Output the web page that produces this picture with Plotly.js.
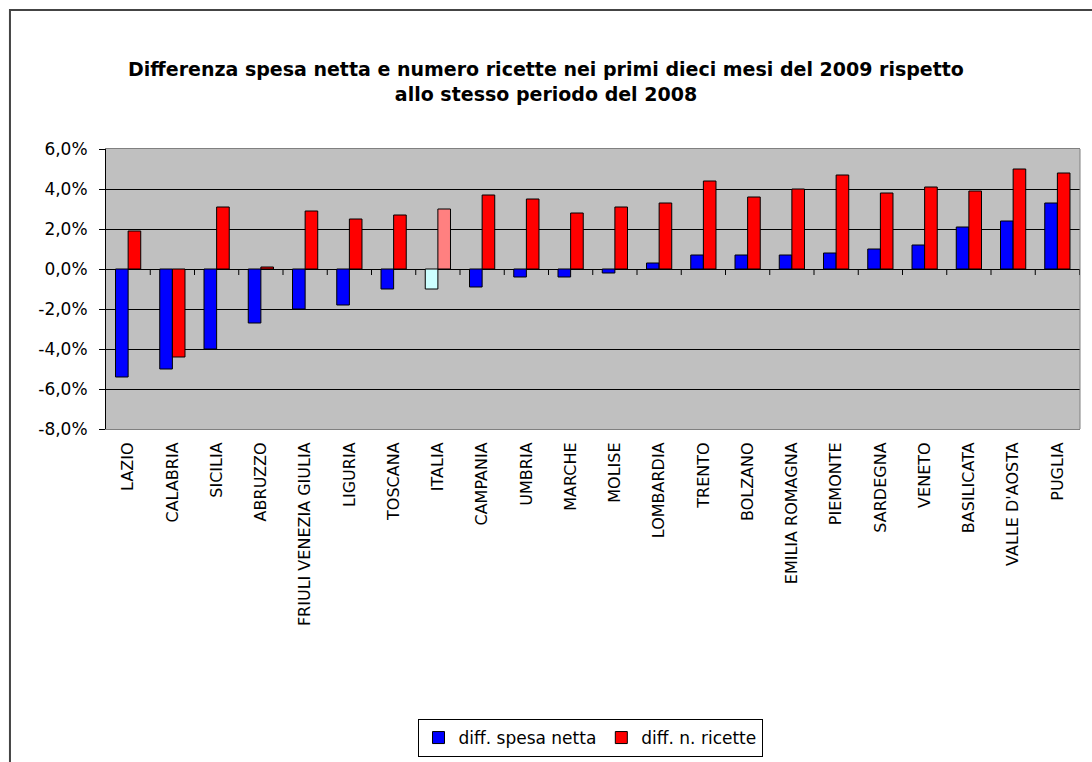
<!DOCTYPE html>
<html>
<head>
<meta charset="utf-8">
<script src="https://cdn.plot.ly/plotly-3.0.1.min.js"></script>
<style>html,body{margin:0;padding:0;background:#fff;}#chart{width:1092px;height:762px;}</style>
</head>
<body>
<div id="chart"></div>
<script>
const categories = ['LAZIO','CALABRIA','SICILIA','ABRUZZO','FRIULI VENEZIA GIULIA','LIGURIA','TOSCANA','ITALIA','CAMPANIA','UMBRIA','MARCHE','MOLISE','LOMBARDIA','TRENTO','BOLZANO','EMILIA ROMAGNA','PIEMONTE','SARDEGNA','VENETO','BASILICATA',"VALLE D'AOSTA",'PUGLIA'];
const spesaNetta = [-5.4,-5.0,-4.0,-2.7,-2.0,-1.8,-1.0,-1.0,-0.9,-0.4,-0.4,-0.2,0.3,0.7,0.7,0.7,0.8,1.0,1.2,2.1,2.4,3.3];
const nRicette = [1.9,-4.4,3.1,0.1,2.9,2.5,2.7,3.0,3.7,3.5,2.8,3.1,3.3,4.4,3.6,4.0,4.7,3.8,4.1,3.9,5.0,4.8];
const yTickVals = [-8,-6,-4,-2,0,2,4,6];
const yTickText = ['-8,0%','-6,0%','-4,0%','-2,0%','0,0%','2,0%','4,0%','6,0%'];
const seriesNames = ['diff. spesa netta','diff. n. ricette'];
const titleText = 'Differenza spesa netta e numero ricette nei primi dieci mesi del 2009 rispetto<br>allo stesso periodo del 2008';

const highlight = 'ITALIA';
const blueColors = categories.map(c => c === highlight ? '#ccffff' : '#0000ff');
const redColors = categories.map(c => c === highlight ? '#ff8080' : '#ff0000');

const traces = [
  {type:'bar', name:seriesNames[0], x:categories, y:spesaNetta,
   marker:{color:blueColors, line:{color:'#000', width:1}}, hoverinfo:'skip'},
  {type:'bar', name:seriesNames[1], x:categories, y:nRicette,
   marker:{color:redColors, line:{color:'#000', width:1}}, hoverinfo:'skip'}
];

// category boundary tick marks on the zero line
const shapes = [];
for (let i = 1; i <= categories.length; i++) {
  shapes.push({type:'line', xref:'x', yref:'y', ysizemode:'pixel', yanchor:0,
    x0:i-0.5, x1:i-0.5, y0:0, y1:-6, line:{color:'#000', width:1}});
}
// right border of plot area
shapes.push({type:'line', xref:'paper', yref:'paper', x0:1, x1:1, y0:0, y1:1, line:{color:'#808080', width:1}});
// outer chart frame
shapes.push({type:'rect', xref:'paper', yref:'paper', x0:-0.0986, x1:1.1, y0:-1.4, y1:1.496,
  line:{color:'#444', width:2}, fillcolor:'rgba(0,0,0,0)'});

const layout = {
  width:1092, height:762,
  margin:{l:106, r:12, t:149, b:333, autoexpand:false},
  paper_bgcolor:'#fff',
  plot_bgcolor:'#c0c0c0',
  font:{family:'DejaVu Sans, Arial, sans-serif', color:'#000'},
  title:{text:titleText, font:{family:'DejaVu Sans, Arial, sans-serif', size:19, weight:'bold', color:'#000'},
    xref:'container', x:0.5, xanchor:'center', yref:'container', y:1-76/762, yanchor:'top'},
  barmode:'group', bargap:0.43, bargroupgap:0,
  showlegend:true,
  legend:{orientation:'h', xref:'container', x:590/1092, xanchor:'center', yref:'container', y:1-719/762, yanchor:'top',
    bgcolor:'#fff', bordercolor:'#000', borderwidth:1, font:{size:17, color:'#000'}},
  xaxis:{type:'category', showline:true, linecolor:'#808080', linewidth:1, mirror:true,
    ticks:'', tickangle:-90, tickfont:{size:16, color:'#000'}, ticklabelstandoff:6,
    showgrid:false, zeroline:false, fixedrange:true},
  yaxis:{range:[-8,6], tickvals:yTickVals, ticktext:yTickText, tickfont:{size:17, color:'#000'},
    showline:true, linecolor:'#000', linewidth:1, ticks:'outside', ticklen:6, tickcolor:'#000',
    ticklabelstandoff:8,
    showgrid:true, gridcolor:'#000', gridwidth:1,
    zeroline:true, zerolinecolor:'#000', zerolinewidth:1, fixedrange:true},
  shapes:shapes
};

Plotly.newPlot('chart', traces, layout, {staticPlot:true, displayModeBar:false});
</script>
</body>
</html>
